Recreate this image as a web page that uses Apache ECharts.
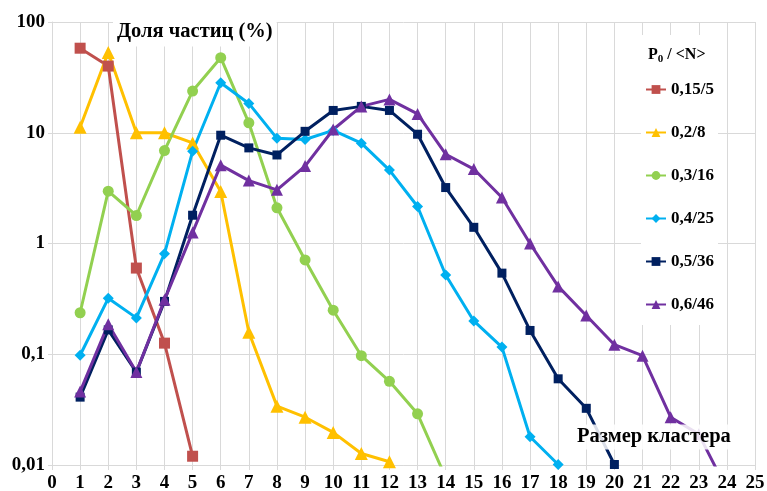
<!DOCTYPE html>
<html>
<head>
<meta charset="utf-8">
<script src="https://cdn.jsdelivr.net/npm/echarts@6/dist/echarts.min.js"></script>
<style>
  html, body { margin: 0; padding: 0; background: #fff; }
  #chart { width: 767px; height: 491px; }
</style>
</head>
<body>
<div id="chart"></div>
<script>
// cluster size 1..N, particle share in %
const sizes = [1, 2, 3, 4, 5, 6, 7, 8, 9, 10, 11, 12, 13, 14, 15, 16, 17, 18, 19, 20, 21, 22, 23, 24]
const share015 = [58, 40, 0.6, 0.126, 0.012]
const share02 = [11.2, 53, 10, 10, 8.1, 2.95, 0.158, 0.034, 0.027, 0.0197, 0.0127, 0.0107]
const share03 = [0.237, 2.97, 1.79, 6.9, 23.8, 47.6, 12.3, 2.1, 0.71, 0.25, 0.097, 0.057, 0.029, 0.0077]
const share04 = [0.098, 0.32, 0.213, 0.81, 6.8, 28.3, 18.4, 8.9, 8.7, 10.5, 8.05, 4.6, 2.16, 0.52, 0.2, 0.116, 0.018, 0.0101]
const share05 = [0.041, 0.166, 0.069, 0.3, 1.8, 9.5, 7.3, 6.3, 10.3, 15.9, 17.3, 15.9, 9.7, 3.2, 1.4, 0.54, 0.164, 0.06, 0.0325, 0.0101]
const share06 = [0.046, 0.187, 0.069, 0.31, 1.26, 5.1, 3.7, 3.05, 5.0, 10.7, 17.3, 20, 14.8, 6.4, 4.7, 2.6, 1.0, 0.41, 0.224, 0.122, 0.097, 0.027, 0.019, 0.006]

const seriesNames = ['0,15/5', '0,2/8', '0,3/16', '0,4/25', '0,5/36', '0,6/46']
const yTickLabels = ['0,01', '0,1', '1', '10', '100']

const FONT = '"Liberation Serif", "DejaVu Serif", serif'
const GRID_COLOR = '#d9d9d9'

const makeSeries = (name, values, color, symbol, symbolSize) => ({
  name,
  type: 'line',
  data: values.map((v, i) => [sizes[i], v]),
  symbol,
  symbolSize,
  clip: true,
  lineStyle: { color, width: 3 },
  itemStyle: { color },
  emphasis: { disabled: true }
})

const chart = echarts.init(document.getElementById('chart'), null, { renderer: 'canvas' })

chart.setOption({
  animation: false,
  grid: { left: 52, right: 12, top: 22, bottom: 26, outerBoundsMode: 'none' },
  xAxis: {
    type: 'value',
    min: 0,
    max: 25,
    interval: 1,
    axisLine: { show: true, lineStyle: { color: GRID_COLOR } },
    axisTick: { show: true, length: 5, lineStyle: { color: GRID_COLOR } },
    splitLine: { show: true, lineStyle: { color: GRID_COLOR, width: 1 } },
    axisLabel: {
      color: '#000', fontFamily: FONT, fontWeight: 'bold', fontSize: 19, margin: 9
    }
  },
  yAxis: {
    type: 'log',
    logBase: 10,
    min: 0.01,
    max: 100,
    axisLine: { show: true, lineStyle: { color: GRID_COLOR } },
    axisTick: { show: true, length: 4, lineStyle: { color: GRID_COLOR } },
    splitLine: { show: true, lineStyle: { color: GRID_COLOR, width: 1 } },
    minorTick: { show: false },
    axisLabel: {
      color: '#000', fontFamily: FONT, fontWeight: 'bold', fontSize: 19, margin: 7,
      formatter: v => yTickLabels[Math.round(Math.log10(v)) + 2]
    }
  },
  legend: {
    orient: 'vertical',
    left: 645,
    top: 81,
    itemWidth: 20,
    itemHeight: 11,
    itemGap: 26,
    padding: 0,
    data: seriesNames,
    textStyle: {
      color: '#000', fontFamily: FONT, fontWeight: 'bold', fontSize: 17, lineHeight: 17
    }
  },
  graphic: [
    {
      type: 'rect',
      z: 1,
      shape: { x: 641, y: 35, width: 77, height: 290 },
      style: { fill: '#fff' }
    },
    {
      type: 'text',
      z: 10,
      x: 648,
      y: 55,
      style: {
        text: '{a|P}{b|0}{a| / <N>}',
        verticalAlign: 'middle',
        rich: {
          a: { fontFamily: FONT, fontWeight: 'bold', fontSize: 16, fill: '#000' },
          b: { fontFamily: FONT, fontWeight: 'bold', fontSize: 11, fill: '#000', padding: [8, 0, 0, 0] }
        }
      }
    },
    {
      type: 'text',
      z: 10,
      x: 113,
      y: 32,
      style: {
        text: 'Доля частиц (%)',
        fontFamily: FONT,
        fontWeight: 'bold',
        fontSize: 20.5,
        fill: '#000',
        verticalAlign: 'middle',
        backgroundColor: '#fff',
        padding: [4, 4, 4, 4]
      }
    },
    {
      type: 'text',
      z: 10,
      x: 574,
      y: 437,
      style: {
        text: 'Размер кластера',
        fontFamily: FONT,
        fontWeight: 'bold',
        fontSize: 20.5,
        fill: '#000',
        verticalAlign: 'middle',
        backgroundColor: 'rgba(255,255,255,0.85)',
        padding: [2, 3, 2, 3]
      }
    }
  ],
  series: [
    makeSeries(seriesNames[0], share015, '#C0504D', 'rect', 11),
    makeSeries(seriesNames[1], share02, '#FFC000', 'triangle', 13),
    makeSeries(seriesNames[2], share03, '#92D050', 'circle', 11),
    makeSeries(seriesNames[3], share04, '#00B0F0', 'diamond', 11),
    makeSeries(seriesNames[4], share05, '#002060', 'rect', 9),
    makeSeries(seriesNames[5], share06, '#7030A0', 'triangle', 12)
  ]
})
</script>
</body>
</html>
